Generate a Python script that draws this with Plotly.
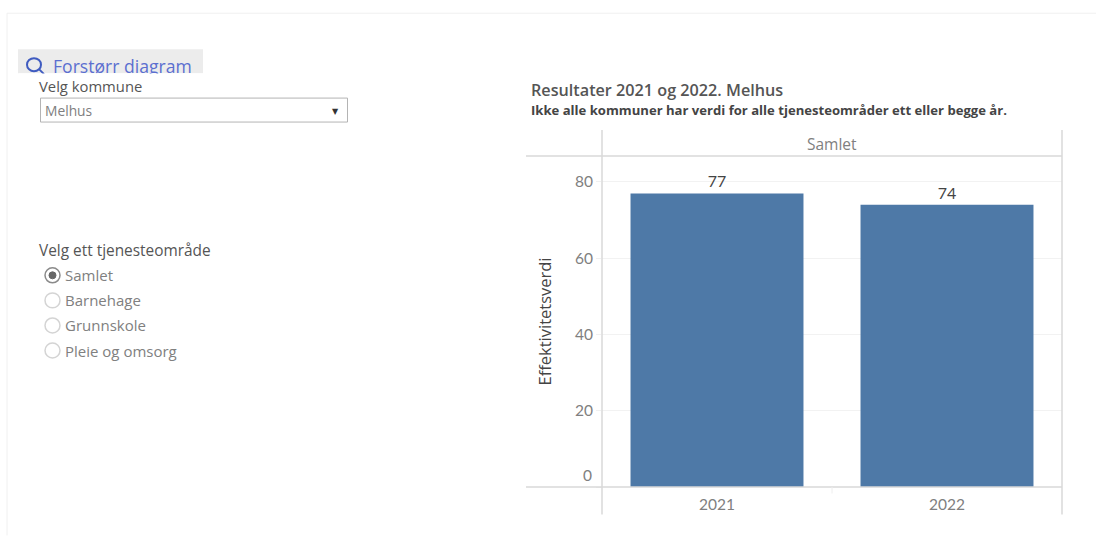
import plotly.graph_objects as go

years = ["2021", "2022"]
values = [77, 74]
y_ticks = [0, 20, 40, 60, 80]
y_tick_labels = ["", "20", "40", "60", "80"]
radio_options = ["Samlet", "Barnehage", "Grunnskole", "Pleie og omsorg"]
W, H = 1096, 536
L, R, T, B = 602, 1062, 156, 487.5
FONT = "Open Sans"
NUM = "Lato"
px = lambda v: (v - L) / (R - L)
py = lambda v: (B - v) / (B - T)

fig = go.Figure(go.Bar(
    x=years, y=values, width=0.752, marker=dict(color="#4e79a7", line=dict(width=0)),
    text=values, textposition="outside", cliponaxis=False,
    textfont=dict(family=NUM, size=16, color="#444444"),
))

shapes, notes = [], []
def line(x0, y0, x1, y1, color="#d9d9d9", width=1.5):
    shapes.append(dict(type="line", xref="paper", yref="paper", x0=px(x0), y0=py(y0), x1=px(x1), y1=py(y1),
                       line=dict(color=color, width=width)))
def rect(x0, y0, x1, y1, fill, color=None, kind="rect", width=1):
    shapes.append(dict(type=kind, xref="paper", yref="paper", x0=px(x0), y0=py(y0), x1=px(x1), y1=py(y1),
                       fillcolor=fill, line=dict(color=color or "rgba(0,0,0,0)", width=width)))
def text(x, y, s, size, color, anchor="left", weight=None, family=FONT):
    notes.append(dict(xref="paper", yref="paper", x=px(x), y=py(y), text=s, showarrow=False, xanchor=anchor,
                      yanchor="middle", borderpad=0, font=dict(family=family, size=size, color=color, weight=weight)))

# page frame
line(7, 13, 1096, 13, "#f0f0f0", 1)
line(7, 13, 7, 536, "#f0f0f0", 1)

# chart frame
line(526, T, R, T); line(526, B, R, B)
line(L, 130, L, 515); line(R, 130, R, 515)
line(832, B, 832, 494, "#eeeeee", 1)

# zoom button
rect(18, 49, 203, 73, "#ececec")
rect(27, 58, 41, 71, "rgba(0,0,0,0)", "#3f5bc0", "circle", 2)
line(39, 69, 44, 74, "#3f5bc0", 2)
text(52, 66, "Forstørr diagram", 17.6, "#5b6fd0")
notes.append(dict(xref="paper", yref="paper", x=px(18), y=py(73), xanchor="left", yanchor="top", text=" ",
                  showarrow=False, width=185, height=7, bgcolor="#ffffff", borderpad=0))

# municipality filter
text(37.5, 85.5, "Velg kommune", 14.8, "#555555")
rect(40.5, 98, 347.5, 122, "#ffffff", "#b4b4b4")
text(43.5, 110, "Melhus", 13.8, "#808080")
notes.append(dict(xref="paper", yref="paper", x=px(330), y=py(104.5), text="▼", showarrow=False,
                  font=dict(family="DejaVu Sans", size=8, color="#333333")))

# service filter
text(37.5, 250.5, "Velg ett tjenesteområde", 15.4, "#555555")
for i, opt in enumerate(radio_options):
    yy = 275.5 + i * 25.1
    rect(45, yy - 7.5, 60, yy + 7.5, "#ffffff", "#8a8a8a" if i == 0 else "#d4d4d4", "circle", 1.5)
    if i == 0:
        rect(49, yy - 3.5, 56, yy + 3.5, "#666666", "#666666", "circle")
    text(64, yy, opt, 15, "#808080")

# titles
text(529.5, 90, "Resultater 2021 og 2022. Melhus", 16.2, "#555555", weight=600)
text(529.5, 110, "Ikke alle kommuner har verdi for alle tjenesteområder ett eller begge år.", 13.1, "#444444", weight=700)
text(832, 144, "Samlet", 15.5, "#808080", "center")
text(593, 475, "0", 15.5, "#808080", "right", family=NUM)

fig.update_layout(
    width=W, height=H, autosize=False, showlegend=False,
    paper_bgcolor="#ffffff", plot_bgcolor="#ffffff",
    margin=dict(l=L, r=W - R, t=T, b=H - B, pad=0),
    shapes=shapes, annotations=notes, bargap=0.248,
    font=dict(family=FONT),
    xaxis=dict(type="category", showgrid=False, ticks="", showline=False, zeroline=False,
               tickfont=dict(family=NUM, size=15.5, color="#808080"), ticklabelstandoff=6),
    yaxis=dict(range=[0, (B - T) / ((B - 182) / 80)], tickvals=y_ticks, ticktext=y_tick_labels,
               showgrid=True, gridcolor="#f2f2f2",
               gridwidth=1, zeroline=False, showline=False, ticks="outside", ticklen=5, tickcolor="#f0f0f0",
               tickfont=dict(family=NUM, size=15.5, color="#808080"),
               title=dict(text="Effektivitetsverdi", standoff=19, font=dict(family=FONT, size=16.5, color="#444444"))),
)
fig.write_html("out.html", config=dict(displayModeBar=False),
               post_script="document.body.style.margin='0';document.body.style.overflow='hidden';")
